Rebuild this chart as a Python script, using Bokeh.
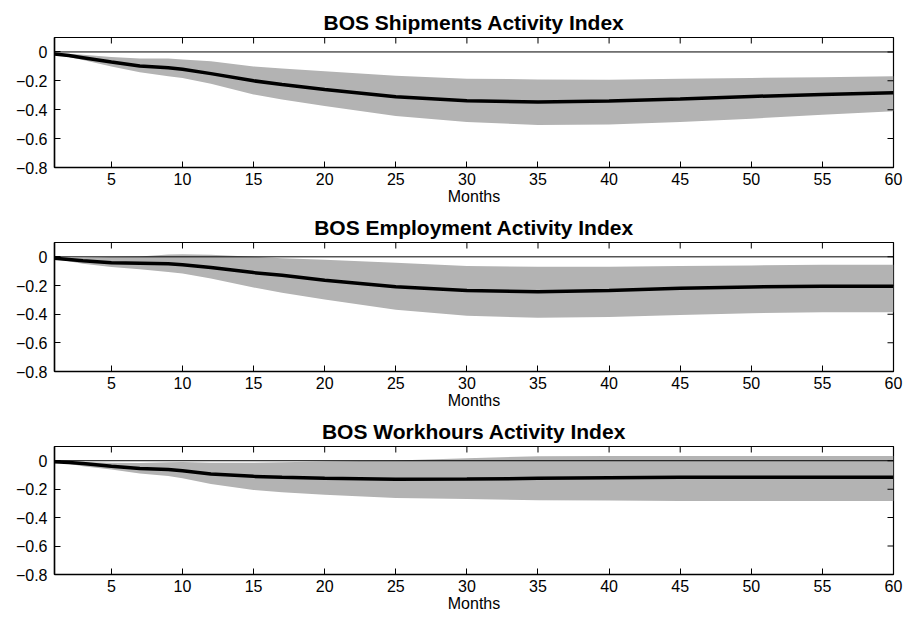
from bokeh.plotting import figure
from bokeh.layouts import column
from bokeh.models import Range1d, FixedTicker, Span, CustomJSTickFormatter
from bokeh.embed import file_html
from bokeh.resources import INLINE

# Impulse responses (months after shock) with confidence bands
months = [1, 2, 3, 5, 7, 9, 10, 12, 15, 17, 20, 25, 30, 35, 40, 45, 50, 55, 60]

ship_mid = [-0.015, -0.025, -0.04, -0.07, -0.098, -0.11, -0.12, -0.15, -0.2, -0.225,
            -0.26, -0.31, -0.338, -0.347, -0.34, -0.325, -0.308, -0.294, -0.283]
ship_up = [-0.01, -0.012, -0.02, -0.035, -0.045, -0.046, -0.053, -0.065, -0.1, -0.115,
           -0.133, -0.165, -0.185, -0.19, -0.193, -0.186, -0.18, -0.175, -0.168]
ship_lo = [-0.02, -0.035, -0.055, -0.1, -0.14, -0.168, -0.18, -0.22, -0.294, -0.33,
           -0.375, -0.444, -0.485, -0.505, -0.503, -0.485, -0.462, -0.434, -0.411]

emp_mid = [-0.01, -0.018, -0.028, -0.041, -0.044, -0.048, -0.055, -0.074, -0.11, -0.129,
           -0.163, -0.209, -0.235, -0.243, -0.235, -0.22, -0.21, -0.205, -0.205]
emp_up = [-0.005, -0.006, -0.007, -0.002, 0.002, 0.016, 0.018, 0.014, 0.0, -0.01,
          -0.02, -0.041, -0.064, -0.069, -0.069, -0.064, -0.06, -0.055, -0.055]
emp_lo = [-0.015, -0.03, -0.048, -0.071, -0.087, -0.106, -0.117, -0.152, -0.214, -0.25,
          -0.297, -0.37, -0.411, -0.425, -0.42, -0.405, -0.393, -0.386, -0.386]

hrs_mid = [-0.007, -0.013, -0.02, -0.039, -0.055, -0.062, -0.071, -0.094, -0.11, -0.117,
           -0.124, -0.131, -0.129, -0.124, -0.12, -0.117, -0.117, -0.117, -0.117]
hrs_up = [-0.005, -0.007, -0.009, -0.014, -0.016, -0.011, -0.009, -0.014, -0.014, -0.011,
          -0.005, 0.002, 0.018, 0.032, 0.034, 0.034, 0.034, 0.034, 0.034]
hrs_lo = [-0.01, -0.022, -0.039, -0.062, -0.09, -0.108, -0.124, -0.163, -0.205, -0.221,
          -0.239, -0.262, -0.269, -0.278, -0.28, -0.283, -0.283, -0.283, -0.283]

titles = ["BOS Shipments Activity Index",
          "BOS Employment Activity Index",
          "BOS Workhours Activity Index"]
x_ticks = [5, 10, 15, 20, 25, 30, 35, 40, 45, 50, 55, 60]
y_ticks = [-0.8, -0.6, -0.4, -0.2, 0]
x_min, x_max = 1, 60
y_min, y_max = -0.8, 0.1

FONT = "Liberation Sans"
y_fmt = CustomJSTickFormatter(code="""
    if (Math.abs(tick) < 1e-9) { return "0"; }
    return tick.toFixed(1).replace("-", "\u2212");
""")


def panel(title, mid, up, lo, height, top, bottom):
    p = figure(width=906, height=height, output_backend="svg", toolbar_location=None,
               x_range=Range1d(x_min, x_max), y_range=Range1d(y_min, y_max),
               min_border_left=54, min_border_right=13,
               min_border_top=top, min_border_bottom=bottom)
    p.title.text = title
    p.title.align = "center"
    p.title.text_font = FONT
    p.title.text_font_size = "21px"
    p.title.text_font_style = "bold"
    p.title.text_color = "black"
    p.title.standoff = 7
    p.grid.visible = False
    p.outline_line_color = "black"
    p.outline_line_width = 1.2

    p.varea(x=months, y1=lo, y2=up, fill_color="#b3b3b3", fill_alpha=1.0)
    p.add_layout(Span(location=0, dimension="width", line_color="black", line_width=1))
    p.line(x=months, y=mid, line_color="black", line_width=3.5)

    # inward ticks mirrored on the top and right edges (half of each mark is clipped)
    p.rect(x=x_ticks, y=[y_max] * len(x_ticks), width=1, height=12,
           width_units="screen", height_units="screen",
           fill_color="black", line_color=None)
    p.rect(x=[x_max] * len(y_ticks), y=y_ticks, width=12, height=1,
           width_units="screen", height_units="screen",
           fill_color="black", line_color=None)

    xa = p.xaxis[0]
    xa.ticker = FixedTicker(ticks=x_ticks)
    xa.axis_label = "Months"
    ya = p.yaxis[0]
    ya.ticker = FixedTicker(ticks=y_ticks)
    ya.formatter = y_fmt
    for ax in (xa, ya):
        ax.major_tick_in = 6
        ax.major_tick_out = 0
        ax.minor_tick_line_color = None
        ax.axis_line_color = "black"
        ax.axis_line_width = 1.5
        ax.major_tick_line_color = "black"
        ax.major_label_text_font = FONT
        ax.major_label_text_font_size = "16px"
        ax.major_label_text_color = "black"
        ax.axis_label_text_font = FONT
        ax.axis_label_text_font_size = "16px"
        ax.axis_label_text_font_style = "normal"
        ax.axis_label_text_color = "black"
    xa.major_label_standoff = 5
    xa.axis_label_standoff = 0
    ya.major_label_standoff = 7
    return p


p1 = panel(titles[0], ship_mid, ship_up, ship_lo, 210, 37, 43)
p2 = panel(titles[1], emp_mid, emp_up, emp_lo, 204, 31, 43)
p3 = panel(titles[2], hrs_mid, hrs_up, hrs_lo, 203, 30, 43)

layout = column(p1, p2, p3, spacing=0)
open("out.html", "w").write(file_html(layout, INLINE))
